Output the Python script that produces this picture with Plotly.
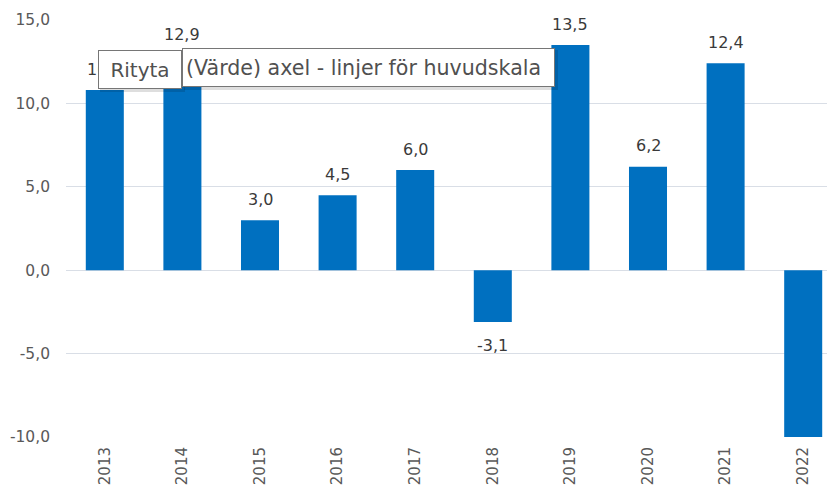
import plotly.graph_objects as go

years = ["2013", "2014", "2015", "2016", "2017", "2018", "2019", "2020", "2021", "2022"]
values = [10.8, 12.9, 3.0, 4.5, 6.0, -3.1, 13.5, 6.2, 12.4, -11.0]
y_ticks = [-10, -5, 0, 5, 10, 15]
y_tick_labels = ["-10,0", "-5,0", "0,0", "5,0", "10,0", "15,0"]
tip_left = "Rityta"
tip_right = "(Värde) axel - linjer för huvudskala"

YMIN, YMAX = -10, 15
W, H = 835, 496
# page body has an 8px margin; plot area in window coords: x 66..842, y 20..437
OFF = 8
PL, PR, PT, PB = 66, 842, 20, 437

fig = go.Figure()
fig.add_trace(go.Bar(
    x=years, y=values, marker=dict(color="#0070C0", line=dict(width=0)),
    width=0.49, hoverinfo="skip",
))

def fmt(v):
    return f"{v:.1f}".replace(".", ",")

for i, v in enumerate(values):
    if YMIN <= v <= YMAX:
        fig.add_annotation(x=i, y=v, xref="x", yref="y", text=fmt(v), showarrow=False,
                           yshift=21 if v >= 0 else -24, yanchor="middle",
                           font=dict(family="DejaVu Sans, sans-serif", size=16, color="#3a3a3a"))

def px(x): return (x - PL) / (PR - PL)
def py(y): return (PB - y) / (PB - PT)

def tip(x0, x1, y0, y1, text, size, align):
    # soft shadow
    fig.add_shape(type="rect", xref="paper", yref="paper", layer="above",
                  x0=px(x0 + 2), x1=px(x1 + 3), y0=py(y1 + 3), y1=py(y0 + 2),
                  fillcolor="rgba(0,0,0,0.13)", line=dict(width=0))
    pad = 3
    fig.add_annotation(xref="paper", yref="paper", x=px(x0), y=py(y0),
                       xanchor="left", yanchor="top", showarrow=False,
                       text=text, align=align, valign="middle",
                       width=(x1 - x0) - 2 * pad - 2, height=(y1 - y0) - 2 * pad - 2,
                       borderpad=pad, borderwidth=1, bordercolor="#767676", bgcolor="white",
                       font=dict(family="DejaVu Sans, sans-serif", size=size, color="#505050"))

tip(182, 555, 48, 87, tip_right, 20.6, "left")
tip(98, 182, 50, 89, tip_left, 20, "center")

fig.update_layout(
    width=W, height=H,
    margin=dict(l=PL - OFF, r=W - (PR - OFF), t=PT - OFF, b=H - (PB - OFF), autoexpand=False),
    plot_bgcolor="white", paper_bgcolor="white",
    showlegend=False,
    xaxis=dict(type="category", range=[-0.5, 9.5], tickangle=-90, showgrid=False, showline=False,
               ticks="", ticklabelstandoff=6, automargin=False,
               tickfont=dict(family="DejaVu Sans, sans-serif", size=15, color="#595959")),
    yaxis=dict(range=[YMIN, YMAX], tickvals=y_ticks, ticktext=y_tick_labels,
               showgrid=True, gridcolor="#D9DEE6", gridwidth=1,
               zeroline=True, zerolinecolor="#D9DEE6", zerolinewidth=1,
               showline=False, ticks="", ticklabelstandoff=15, automargin=False,
               tickfont=dict(family="DejaVu Sans, sans-serif", size=15.5, color="#595959")),
)

fig.write_html("out.html")
